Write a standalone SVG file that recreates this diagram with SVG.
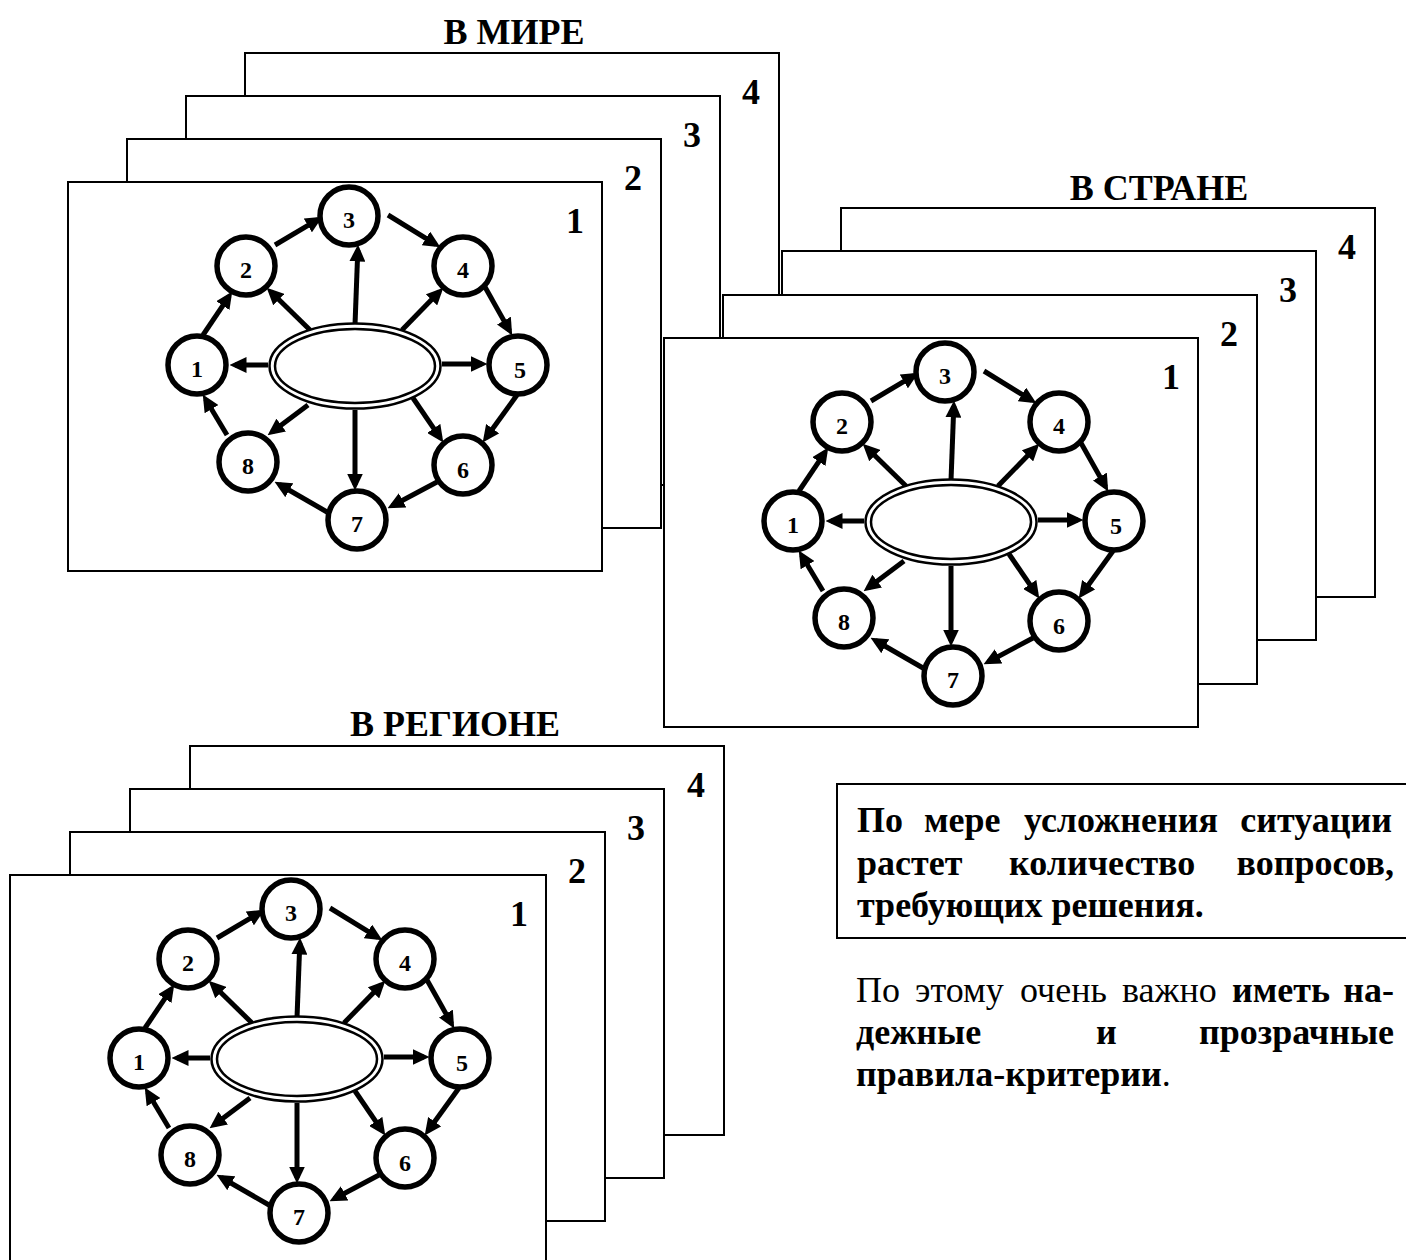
<svg xmlns="http://www.w3.org/2000/svg" width="1406" height="1260" viewBox="0 0 1406 1260">
<style>
.frame{fill:#fff;stroke:#000;stroke-width:2}
.lbl{font-family:"Liberation Serif","Times New Roman",serif;font-weight:bold;font-size:36px;fill:#000;text-anchor:end}
.title{font-family:"Liberation Serif","Times New Roman",serif;font-weight:bold;font-size:36px;fill:#000;text-anchor:middle}
.node{fill:#fff;stroke:#000;stroke-width:5.5}
.num{font-family:"Liberation Serif","Times New Roman",serif;font-weight:bold;font-size:24px;fill:#000;text-anchor:middle}
.ell{fill:#fff;stroke:#000;stroke-width:2.5}
.arr{fill:none;stroke:#000;stroke-width:5;marker-end:url(#ah)}
.body{font-family:"Liberation Serif","Times New Roman",serif;font-size:36px;fill:#000}
.b{font-weight:bold}
</style>
<defs>
<marker id="ah" markerUnits="userSpaceOnUse" markerWidth="17" markerHeight="16" viewBox="0 0 17 16" refX="11.5" refY="8" orient="auto">
<path d="M0,0 L17,8 L0,16 z" fill="#000"/>
</marker>
</defs>
<rect width="1406" height="1260" fill="#fff"/>

<!-- Stack 1: В МИРЕ -->
<g id="stack-world">
<text class="title" x="514" y="44">В МИРЕ</text>
<rect class="frame" x="245" y="53" width="534" height="389"/>
<text class="lbl" x="760" y="104">4</text>
<rect class="frame" x="186" y="96" width="534" height="389"/>
<text class="lbl" x="701" y="147">3</text>
<rect class="frame" x="127" y="139" width="534" height="389"/>
<text class="lbl" x="642" y="190">2</text>
<rect class="frame" x="68" y="182" width="534" height="389"/>
<text class="lbl" x="584" y="233">1</text>
<g id="w-diagram">
<g id="w-connectors">
<path class="arr" d="M275,245 L317.7,219.6"/>
<path class="arr" d="M388,215 L435.7,244.4"/>
<path class="arr" d="M355,325 L357.8,250"/>
<path class="arr" d="M310,330 L270.6,291.5"/>
<path class="arr" d="M402,330 L439.5,291.6"/>
<path class="arr" d="M268,365 L235,365"/>
<path class="arr" d="M442,364 L482,364"/>
<path class="arr" d="M203,335 L229.2,296.1"/>
<path class="arr" d="M485,287 L509.5,330.6"/>
<path class="arr" d="M517,395 L485.9,438"/>
<path class="arr" d="M413,398 L440.2,437.9"/>
<path class="arr" d="M308,405 L272,432"/>
<path class="arr" d="M355,410 L355,485"/>
<path class="arr" d="M437,482 L392.4,505.7"/>
<path class="arr" d="M327,512 L279.3,484.5"/>
<path class="arr" d="M227,435 L205.6,399.3"/>
</g>
<g id="w-center"><ellipse class="ell" cx="355" cy="366" rx="85.5" ry="42.5"/><ellipse class="ell" cx="355" cy="366" rx="80" ry="37"/></g>
<g id="w-n1"><circle class="node" cx="197" cy="365" r="29"/><text class="num" x="197" y="377">1</text></g>
<g id="w-n2"><circle class="node" cx="246" cy="266" r="29"/><text class="num" x="246" y="278">2</text></g>
<g id="w-n3"><circle class="node" cx="349" cy="216" r="29"/><text class="num" x="349" y="228">3</text></g>
<g id="w-n4"><circle class="node" cx="463" cy="266" r="29"/><text class="num" x="463" y="278">4</text></g>
<g id="w-n5"><circle class="node" cx="518" cy="365" r="29"/><text class="num" x="520" y="378">5</text></g>
<g id="w-n6"><circle class="node" cx="463" cy="465" r="29"/><text class="num" x="463" y="478">6</text></g>
<g id="w-n7"><circle class="node" cx="357" cy="520" r="29"/><text class="num" x="357" y="532">7</text></g>
<g id="w-n8"><circle class="node" cx="248" cy="462" r="29"/><text class="num" x="248" y="474">8</text></g>
</g>
</g>

<!-- Stack 2: В СТРАНЕ -->
<g id="stack-country">
<text class="title" x="1159" y="200">В СТРАНЕ</text>
<rect class="frame" x="841" y="208" width="534" height="389"/>
<text class="lbl" x="1356" y="259">4</text>
<rect class="frame" x="782" y="251" width="534" height="389"/>
<text class="lbl" x="1297" y="302">3</text>
<rect class="frame" x="723" y="295" width="534" height="389"/>
<text class="lbl" x="1238" y="346">2</text>
<rect class="frame" x="664" y="338" width="534" height="389"/>
<text class="lbl" x="1180" y="389">1</text>
<g id="c-diagram" transform="translate(596,156)">
<g id="c-connectors">
<path class="arr" d="M275,245 L317.7,219.6"/>
<path class="arr" d="M388,215 L435.7,244.4"/>
<path class="arr" d="M355,325 L357.8,250"/>
<path class="arr" d="M310,330 L270.6,291.5"/>
<path class="arr" d="M402,330 L439.5,291.6"/>
<path class="arr" d="M268,365 L235,365"/>
<path class="arr" d="M442,364 L482,364"/>
<path class="arr" d="M203,335 L229.2,296.1"/>
<path class="arr" d="M485,287 L509.5,330.6"/>
<path class="arr" d="M517,395 L485.9,438"/>
<path class="arr" d="M413,398 L440.2,437.9"/>
<path class="arr" d="M308,405 L272,432"/>
<path class="arr" d="M355,410 L355,485"/>
<path class="arr" d="M437,482 L392.4,505.7"/>
<path class="arr" d="M327,512 L279.3,484.5"/>
<path class="arr" d="M227,435 L205.6,399.3"/>
</g>
<g id="c-center"><ellipse class="ell" cx="355" cy="366" rx="85.5" ry="42.5"/><ellipse class="ell" cx="355" cy="366" rx="80" ry="37"/></g>
<g id="c-n1"><circle class="node" cx="197" cy="365" r="29"/><text class="num" x="197" y="377">1</text></g>
<g id="c-n2"><circle class="node" cx="246" cy="266" r="29"/><text class="num" x="246" y="278">2</text></g>
<g id="c-n3"><circle class="node" cx="349" cy="216" r="29"/><text class="num" x="349" y="228">3</text></g>
<g id="c-n4"><circle class="node" cx="463" cy="266" r="29"/><text class="num" x="463" y="278">4</text></g>
<g id="c-n5"><circle class="node" cx="518" cy="365" r="29"/><text class="num" x="520" y="378">5</text></g>
<g id="c-n6"><circle class="node" cx="463" cy="465" r="29"/><text class="num" x="463" y="478">6</text></g>
<g id="c-n7"><circle class="node" cx="357" cy="520" r="29"/><text class="num" x="357" y="532">7</text></g>
<g id="c-n8"><circle class="node" cx="248" cy="462" r="29"/><text class="num" x="248" y="474">8</text></g>
</g>
</g>

<!-- Stack 3: В РЕГИОНЕ -->
<g id="stack-region">
<text class="title" x="455" y="736">В РЕГИОНЕ</text>
<rect class="frame" x="190" y="746" width="534" height="389"/>
<text class="lbl" x="705" y="797">4</text>
<rect class="frame" x="130" y="789" width="534" height="389"/>
<text class="lbl" x="645" y="840">3</text>
<rect class="frame" x="70" y="832" width="535" height="389"/>
<text class="lbl" x="586" y="883">2</text>
<rect class="frame" x="10" y="875" width="536" height="389"/>
<text class="lbl" x="528" y="926">1</text>
<g id="r-diagram" transform="translate(-58,693)">
<g id="r-connectors">
<path class="arr" d="M275,245 L317.7,219.6"/>
<path class="arr" d="M388,215 L435.7,244.4"/>
<path class="arr" d="M355,325 L357.8,250"/>
<path class="arr" d="M310,330 L270.6,291.5"/>
<path class="arr" d="M402,330 L439.5,291.6"/>
<path class="arr" d="M268,365 L235,365"/>
<path class="arr" d="M442,364 L482,364"/>
<path class="arr" d="M203,335 L229.2,296.1"/>
<path class="arr" d="M485,287 L509.5,330.6"/>
<path class="arr" d="M517,395 L485.9,438"/>
<path class="arr" d="M413,398 L440.2,437.9"/>
<path class="arr" d="M308,405 L272,432"/>
<path class="arr" d="M355,410 L355,485"/>
<path class="arr" d="M437,482 L392.4,505.7"/>
<path class="arr" d="M327,512 L279.3,484.5"/>
<path class="arr" d="M227,435 L205.6,399.3"/>
</g>
<g id="r-center"><ellipse class="ell" cx="355" cy="366" rx="85.5" ry="42.5"/><ellipse class="ell" cx="355" cy="366" rx="80" ry="37"/></g>
<g id="r-n1"><circle class="node" cx="197" cy="365" r="29"/><text class="num" x="197" y="377">1</text></g>
<g id="r-n2"><circle class="node" cx="246" cy="266" r="29"/><text class="num" x="246" y="278">2</text></g>
<g id="r-n3"><circle class="node" cx="349" cy="216" r="29"/><text class="num" x="349" y="228">3</text></g>
<g id="r-n4"><circle class="node" cx="463" cy="266" r="29"/><text class="num" x="463" y="278">4</text></g>
<g id="r-n5"><circle class="node" cx="518" cy="365" r="29"/><text class="num" x="520" y="378">5</text></g>
<g id="r-n6"><circle class="node" cx="463" cy="465" r="29"/><text class="num" x="463" y="478">6</text></g>
<g id="r-n7"><circle class="node" cx="357" cy="520" r="29"/><text class="num" x="357" y="532">7</text></g>
<g id="r-n8"><circle class="node" cx="248" cy="462" r="29"/><text class="num" x="248" y="474">8</text></g>
</g>
</g>

<!-- Text box -->
<g id="note-box">
<rect x="837" y="784" width="580" height="154" fill="#fff" stroke="#000" stroke-width="2"/>
<text class="body b" y="832"><tspan x="857">По</tspan><tspan x="924">мере</tspan><tspan x="1024">усложнения</tspan><tspan x="1392" text-anchor="end">ситуации</tspan></text>
<text class="body b" y="875"><tspan x="857">растет</tspan><tspan x="1009">количество</tspan><tspan x="1394" text-anchor="end">вопросов,</tspan></text>
<text class="body b" x="857" y="917">требующих решения.</text>
</g>
<g id="note-text">
<text class="body" y="1002"><tspan x="856">По</tspan><tspan x="915">этому</tspan><tspan x="1020">очень</tspan><tspan x="1122">важно</tspan><tspan class="b" x="1232">иметь</tspan><tspan class="b" x="1394" text-anchor="end">на-</tspan></text>
<text class="body b" y="1044"><tspan x="856">дежные</tspan><tspan x="1096">и</tspan><tspan x="1394" text-anchor="end">прозрачные</tspan></text>
<text class="body" x="856" y="1086"><tspan class="b">правила-критерии</tspan>.</text>
</g>
</svg>
